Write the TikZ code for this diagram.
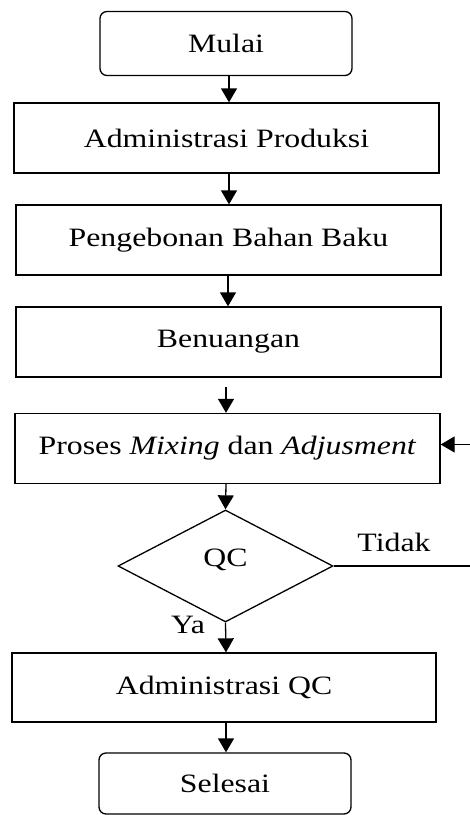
\documentclass[tikz,border=0pt]{standalone}
\usepackage{fontspec}
\setmainfont[FakeStretch=1.2]{Liberation Serif}
\usetikzlibrary{arrows.meta,shapes.geometric}
\begin{document}
\begin{tikzpicture}[x=1pt,y=-1pt,
  every node/.style={font=\fontsize{26.5}{30}\selectfont},
  procbox/.style={draw,line width=1.3pt,minimum width=425pt,minimum height=70pt,inner sep=0pt},
  termbox/.style={draw,line width=1.3pt,rounded corners=7pt,minimum width=252pt,minimum height=64pt,inner sep=0pt},
  decbox/.style={draw,diamond,line width=1.3pt,minimum width=215pt,minimum height=112pt,inner sep=0pt},
  arr/.style={line width=1.3pt,-{Triangle[length=14pt,width=16pt]}},
  plain/.style={line width=1.3pt}]
\useasboundingbox (0,0) rectangle (470,815);
\node[termbox] (start) at (226,43.5) {Mulai};
\node[procbox] (admp) at (226.5,138) {Administrasi Produksi};
\node[procbox] (bon) at (228.5,240) {Pengebonan Bahan Baku};
\node[procbox] (buang) at (228.5,342) {Benuangan};
\node[procbox] (mix) at (227.5,448.5) {Proses \textit{Mixing} dan \textit{Adjusment}};
\node[decbox] (qc) at (225.5,566) {};
\node (qct) at (225.5,560) {QC};
\node[procbox,minimum width=424pt,minimum height=69pt] (admqc) at (224,687.5) {Administrasi QC};
\node[termbox,minimum height=61pt] (end) at (225,783.5) {Selesai};
\node (tidak) at (394,542) {Tidak};
\node (ya) at (188,625) {Ya};
\coordinate (fb) at (473,566);
\draw[arr] (start.south -| 229,0) -- (admp.north -| 229,0);
\draw[arr] (admp.south -| 229,0) -- (bon.north -| 229,0);
\draw[arr] (bon.south -| 228,0) -- (buang.north -| 228,0);
\draw[arr,shorten <=9pt] (buang.south -| 226,0) -- (mix.north -| 226,0);
\draw[arr] (mix.south -| 226,0) -- (qc.north);
\draw[arr] (qc.south) -- (admqc.north -| 226,0);
\draw[arr] (admqc.south -| 226,0) -- (end.north -| 226,0);
\draw[plain] (qc.east) -- (fb);
\draw[arr] (fb) |- ([yshift=4pt]mix.east);
\end{tikzpicture}
\end{document}
